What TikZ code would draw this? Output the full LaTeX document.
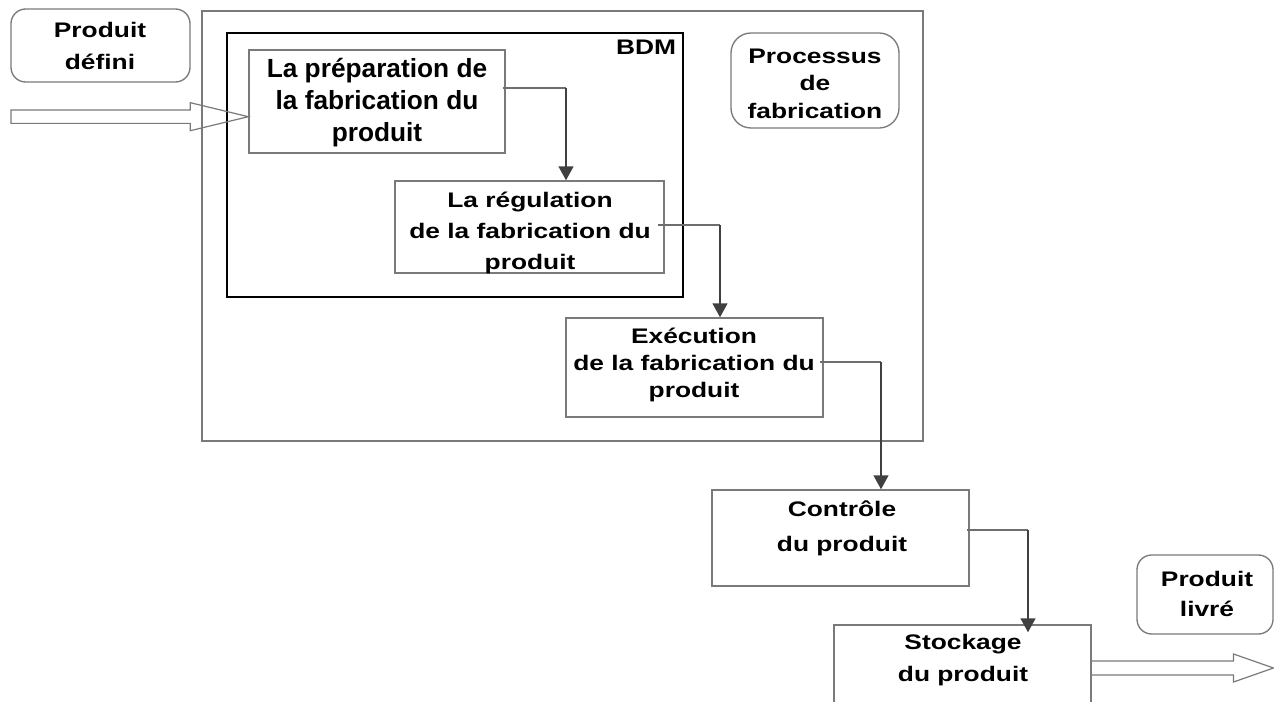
\documentclass[tikz,border=0pt]{standalone}
\usepackage{fontspec}
\setmainfont{Liberation Sans}
\newfontfamily\widebf{Liberation Sans Bold}[FakeStretch=1.25]
\newfontfamily\plainbf{Liberation Sans Bold}
\usetikzlibrary{arrows.meta,calc,fit}
\definecolor{boxgray}{HTML}{7A7A7A}
\definecolor{linkgray}{HTML}{6E6E6E}
\definecolor{flowgray}{HTML}{404040}
\begin{document}
\begin{tikzpicture}[x=0.75pt,y=-0.75pt,
  box/.style={draw=boxgray, line width=1pt, rectangle, inner sep=0pt},
  tag/.style={box, rounded corners=#1},
  bdmframe/.style={draw=black, line width=1.9pt, rectangle, inner sep=0pt},
  % texts are placed by the baseline of their last line
  txt/.style={anchor=base, align=center, inner sep=0pt,
    font=\widebf\fontsize{15.8}{#1}\selectfont},
  bigtxt/.style={anchor=base, align=center, inner sep=0pt,
    font=\plainbf\fontsize{19.7}{#1}\selectfont},
  link/.style={draw=linkgray, line width=0.9pt},
  flow/.style={draw=flowgray, line width=1.8pt,
    -{Triangle[length=10.5pt,width=11pt]}},
  hollow/.style={draw=boxgray, line width=0.9pt, line join=miter}]
\useasboundingbox (0,0) rectangle (1274,702);
\clip (0,0) rectangle (1274,702);

% frames
\node[box, fit={(202,11) (923,441)}] (proc) {};
\node[bdmframe, fit={(227,33) (683,297)}] (bdm) {};
\node[txt=13.5pt] (bdmtxt) at (646,55) {BDM};

% stages of the process
\node[box, fit={(249,50) (505,153)}] (prep) {};
\node[bigtxt=24.2pt] (preptxt) at (377,141.7) {La préparation de\\la fabrication du\\produit};

\node[box, fit={(395,181) (664,273)}] (reg) {};
\node[txt=23.6pt] (regtxt) at (530,270) {La régulation\\de la fabrication du\\produit};

\node[box, fit={(566,318) (823,417)}] (exec) {};
\node[txt=20.4pt] (exectxt) at (694,397.7) {Exécution\\de la fabrication du\\produit};

\node[box, fit={(712,490) (969,586)}] (ctrl) {};
\node[txt=26.2pt] (ctrltxt) at (842,551) {Contrôle\\du produit};

\node[box, fit={(834,625) (1091,730)}] (stock) {};
\node[txt=23.8pt] (stocktxt) at (963,681.7) {Stockage\\du produit};

% labels
\node[tag=11pt, fit={(11,9) (190,82)}] (def) {};
\node[txt=24.5pt] (deftxt) at (100,70) {Produit\\défini};

\node[tag=15pt, fit={(731,33) (899,128)}] (fab) {};
\node[txt=20.6pt] (fabtxt) at (815,118.3) {Processus\\de\\fabrication};

\node[tag=11pt, fit={(1137,555) (1273,634)}] (liv) {};
\node[txt=23pt] (livtxt) at (1207,616.7) {Produit\\livré};

% connectors between stages
\coordinate (e1) at (566,88);
\draw[link] ($(prep.east |- e1)+(-3,0)$) -- (e1);
\draw[flow] (e1) -- (e1 |- reg.north);

\coordinate (e2) at (720,225);
\draw[link] ($(reg.east |- e2)+(-7,0)$) -- (e2);
\draw[flow] (e2) -- (e2 |- exec.north);

\coordinate (e3) at (881,362);
\draw[link] ($(exec.east |- e3)+(-4,0)$) -- (e3);
\draw[flow] (e3) -- (e3 |- ctrl.north);

\coordinate (e4) at (1028,530);
\draw[link] ($(ctrl.east |- e4)+(-3,0)$) -- (e4);
\draw[flow, shorten >=-6pt] (e4) -- (e4 |- stock.north);

% input and output arrows
\coordinate (inTail) at (11,116.7);
\coordinate (inTip) at (prep.west |- inTail);
\draw[hollow] ($(inTail)+(0,-6.7)$) -- ($(inTip)+(-58,-6.7)$) -- ($(inTip)+(-58,-14)$)
  -- (inTip) -- ($(inTip)+(-58,14)$) -- ($(inTip)+(-58,6.7)$)
  -- ($(inTail)+(0,6.7)$) -- cycle;

\coordinate (outTip) at (1273.5,668);
\coordinate (outTail) at (stock.east |- outTip);
\draw[hollow] ($(outTail)+(0,-7)$) -- ($(outTip)+(-40,-7)$) -- ($(outTip)+(-40,-14)$)
  -- (outTip) -- ($(outTip)+(-40,14)$) -- ($(outTip)+(-40,7)$)
  -- ($(outTail)+(0,7)$);
\end{tikzpicture}
\end{document}
